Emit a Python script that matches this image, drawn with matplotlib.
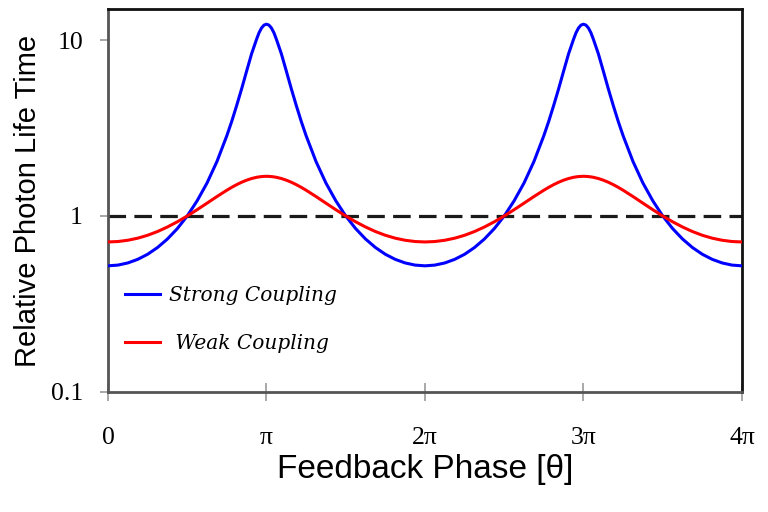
import numpy as np
import matplotlib
matplotlib.use("Agg")
import matplotlib.pyplot as plt
from matplotlib.ticker import FixedLocator, FixedFormatter, NullLocator

# Feedback phase, in units of pi/64 (finer sampling around the resonance peaks)
phase_64 = [0, 4, 8, 12, 16, 20, 24, 28, 32, 36, 40, 44, 48,
            50, 52, 54, 56, 58, 60, 61, 62, 63, 64, 65, 66, 67, 68, 70, 72, 74, 76, 78,
            80, 84, 88, 92, 96, 100, 104, 108, 112, 116, 120, 124, 128,
            132, 136, 140, 144, 148, 152, 156, 160, 164, 168, 172, 176,
            178, 180, 182, 184, 186, 188, 189, 190, 191, 192, 193, 194, 195, 196, 198, 200, 202, 204, 206,
            208, 212, 216, 220, 224, 228, 232, 236, 240, 244, 248, 252, 256]

# Relative photon life time, strong coupling
strong = [0.521, 0.526, 0.541, 0.567, 0.606, 0.662, 0.740, 0.848, 1.000, 1.22, 1.54, 2.04, 2.86,
          3.46, 4.26, 5.30, 6.67, 8.36, 10.1, 11.0, 11.7, 12.15, 12.3, 12.15, 11.7, 11.0, 10.1,
          8.36, 6.67, 5.30, 4.26, 3.46,
          2.86, 2.04, 1.54, 1.22, 1.000, 0.848, 0.740, 0.662, 0.606, 0.567, 0.541, 0.526, 0.521,
          0.526, 0.541, 0.567, 0.606, 0.662, 0.740, 0.848, 1.000, 1.22, 1.54, 2.04, 2.86,
          3.46, 4.26, 5.30, 6.67, 8.36, 10.1, 11.0, 11.7, 12.15, 12.3, 12.15, 11.7, 11.0, 10.1,
          8.36, 6.67, 5.30, 4.26, 3.46,
          2.86, 2.04, 1.54, 1.22, 1.000, 0.848, 0.740, 0.662, 0.606, 0.567, 0.541, 0.526, 0.521]

# Relative photon life time, weak coupling
weak = [0.712, 0.716, 0.728, 0.748, 0.777, 0.816, 0.866, 0.927, 1.000, 1.086, 1.183, 1.290, 1.401,
        1.456, 1.508, 1.556, 1.598, 1.633, 1.659, 1.668, 1.675, 1.679, 1.681, 1.679, 1.675, 1.668, 1.659,
        1.633, 1.598, 1.556, 1.508, 1.456,
        1.401, 1.290, 1.183, 1.086, 1.000, 0.927, 0.866, 0.816, 0.777, 0.748, 0.728, 0.716, 0.712,
        0.716, 0.728, 0.748, 0.777, 0.816, 0.866, 0.927, 1.000, 1.086, 1.183, 1.290, 1.401,
        1.456, 1.508, 1.556, 1.598, 1.633, 1.659, 1.668, 1.675, 1.679, 1.681, 1.679, 1.675, 1.668, 1.659,
        1.633, 1.598, 1.556, 1.508, 1.456,
        1.401, 1.290, 1.183, 1.086, 1.000, 0.927, 0.866, 0.816, 0.777, 0.748, 0.728, 0.716, 0.712]

reference_level = 1.0

x_tick_values = [0, 1, 2, 3, 4]          # multiples of pi
x_tick_labels = ["0", "π", "2π", "3π", "4π"]
y_tick_values = [0.1, 1, 10]
y_tick_labels = ["0.1", "1", "10"]

series_labels = ["Strong Coupling", " Weak Coupling"]

theta = np.array(phase_64) * np.pi / 64.0

fig = plt.figure(figsize=(7.68, 5.12), dpi=100)
ax = fig.add_axes([0.1406, 0.2344, 0.8255, 0.748])

ax.axhline(reference_level, color="#1a1a1a", lw=2.3, linestyle=(0, (5.5, 2.6)), zorder=2)
ax.plot(theta, strong, color="#0000FF", lw=2.2, label=series_labels[0], zorder=3,
        solid_joinstyle="round")
ax.plot(theta, weak, color="#FF0000", lw=2.2, label=series_labels[1], zorder=3,
        solid_joinstyle="round")

ax.set_yscale("log")
ax.set_xlim(0, 4 * np.pi)
ax.set_ylim(0.1, 15)

ax.xaxis.set_major_locator(FixedLocator([v * np.pi for v in x_tick_values]))
ax.xaxis.set_major_formatter(FixedFormatter(x_tick_labels))
ax.yaxis.set_major_locator(FixedLocator(y_tick_values))
ax.yaxis.set_major_formatter(FixedFormatter(y_tick_labels))
ax.yaxis.set_minor_locator(NullLocator())
ax.xaxis.set_minor_locator(NullLocator())

ax.tick_params(axis="x", direction="inout", length=13, width=1.2, color="#999999",
               pad=19, labelsize=18.5)
ax.tick_params(axis="y", direction="out", length=6, width=1.2, color="#999999",
               pad=12, labelsize=18.5)
for lab in ax.get_xticklabels() + ax.get_yticklabels():
    lab.set_family("Liberation Serif")

for side in ("left", "bottom"):
    ax.spines[side].set_color("#555555")
    ax.spines[side].set_linewidth(2.0)
for side in ("top", "right"):
    ax.spines[side].set_color("#111111")
    ax.spines[side].set_linewidth(2.0)

ax.set_xlabel("Feedback Phase [θ]", family="Liberation Sans", fontsize=24, labelpad=3)
ax.set_ylabel("Relative Photon Life Time", family="Liberation Sans", fontsize=21, labelpad=6)

leg = ax.legend(loc="center left", bbox_to_anchor=(0.027, 0.189), frameon=False,
                borderpad=0, borderaxespad=0,
                prop={"family": "DejaVu Serif", "style": "italic", "size": 14.5},
                handlelength=1.75, handletextpad=0.45, labelspacing=1.45)

fig.savefig("out.png", dpi=100)
